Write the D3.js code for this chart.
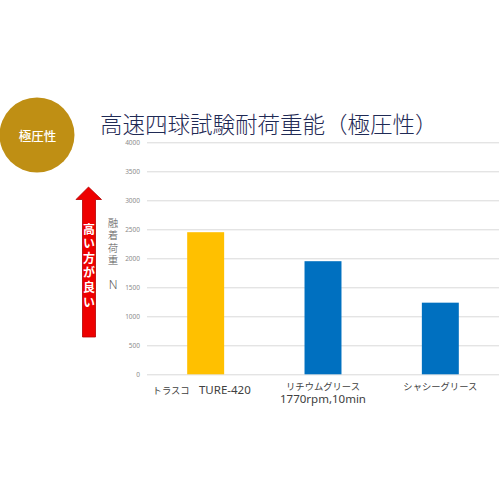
<!DOCTYPE html>
<html lang="ja">
<head>
  <meta charset="UTF-8">
  <title>高速四球試験耐荷重能（極圧性）</title>
  <style>
    body { margin: 0; background: #fff; }
    #chart { width: 500px; height: 500px; display: block; }
    text { font-family: "Noto Sans CJK JP", "Noto Sans", sans-serif; }
  </style>
</head>
<body>
  <svg id="chart"></svg>

  <script src="https://d3js.org/d3.v7.min.js"></script>
  <script>
    // chart data
    const categories = ["トラスコ　TURE-420", "リチウムグリース\n1770rpm,10min", "シャシーグリース"];
    const values = [2450, 1950, 1235];
    const barColors = ["#ffc000", "#0070c0", "#0070c0"];
    const yTicks = [0, 500, 1000, 1500, 2000, 2500, 3000, 3500, 4000];
    const title = "高速四球試験耐荷重能（極圧性）";
    const badge = "極圧性";
    const arrowText = "高い方が良い";
    const axisLabel = "融着荷重";
    const axisUnit = "N";

    const width = 500;
    const height = 500;

    const svg = d3.select("#chart")
      .attr("width", width)
      .attr("height", height);

    const x = d3.scaleBand()
      .domain(categories)
      .range([147, 499])
      .paddingInner(0.685)
      .paddingOuter(0.3425);

    const y = d3.scaleLinear()
      .domain([0, 4000])
      .range([374.3, 142.3]);

    // gridlines + tick labels
    const yAxis = svg.append("g")
      .attr("transform", "translate(147,0)")
      .call(d3.axisLeft(y).tickValues(yTicks).tickSize(-352).tickPadding(7).tickFormat(d3.format("d")));
    yAxis.select(".domain").remove();
    yAxis.selectAll(".tick line").attr("stroke", "#d9d9d9").attr("stroke-width", 1);
    yAxis.selectAll(".tick text")
      .attr("fill", "#8c8c8c")
      .style("font-family", "'Noto Sans', sans-serif")
      .style("font-size", "6.5px");

    // bars
    svg.append("g").selectAll("rect")
      .data(values)
      .join("rect")
      .attr("x", (d, i) => x(categories[i]))
      .attr("width", x.bandwidth())
      .attr("y", d => y(d))
      .attr("height", d => y(0) - y(d))
      .attr("fill", (d, i) => barColors[i]);

    // category labels: katakana smaller than latin, like the original font
    const isCJK = ch => /[\u3000-\u30ff\u4e00-\u9fff\uff00-\uffef]/.test(ch);
    function runs(str) {
      const out = [];
      for (const ch of str) {
        const c = isCJK(ch);
        if (out.length && out[out.length - 1].cjk === c) out[out.length - 1].t += ch;
        else out.push({ t: ch, cjk: c });
      }
      return out;
    }

    categories.forEach((cat, i) => {
      const lines = cat.split("\n");
      const cx = x(cat) + x.bandwidth() / 2 - (i === 0 ? 4 : 0);
      const baseY = lines.length > 1 ? 389.5 : (i === 0 ? 394 : 390);
      lines.forEach((line, j) => {
        const t = svg.append("text")
          .attr("x", cx)
          .attr("y", baseY + j * 13.5)
          .attr("text-anchor", "middle")
          .attr("fill", "#404040");
        runs(line).forEach(r => {
          t.append("tspan")
            .text(r.t)
            .style("font-size", r.cjk ? "9.3px" : "11.5px")
            .style("font-family", r.cjk ? "'Noto Sans CJK JP'" : "'Noto Sans', sans-serif");
        });
      });
    });

    // title
    svg.append("text")
      .attr("x", 100)
      .attr("y", 132.5)
      .attr("fill", "#1f2a55")
      .style("font-size", "22.5px")
      .style("font-weight", 300)
      .text(title);

    // gold badge
    svg.append("circle")
      .attr("cx", 37)
      .attr("cy", 135)
      .attr("r", 37.5)
      .attr("fill", "#bf8f14");
    svg.append("text")
      .attr("x", 37.5)
      .attr("y", 140.5)
      .attr("text-anchor", "middle")
      .attr("fill", "#fff")
      .style("font-size", "12.5px")
      .style("font-weight", 500)
      .text(badge);

    // red arrow
    const arrow = d3.path();
    arrow.moveTo(88.5, 187);
    arrow.lineTo(101.5, 199.5);
    arrow.lineTo(95.5, 199.5);
    arrow.lineTo(95.5, 337);
    arrow.lineTo(82.5, 337);
    arrow.lineTo(82.5, 199.5);
    arrow.lineTo(76, 199.5);
    arrow.closePath();
    svg.append("path")
      .attr("d", arrow.toString())
      .attr("fill", "#ee0000")
      .attr("stroke", "#b40000")
      .attr("stroke-width", 0.8);

    svg.append("text")
      .attr("x", 89)
      .attr("y", 223)
      .attr("writing-mode", "vertical-rl")
      .attr("fill", "#fff")
      .style("font-size", "12px")
      .style("font-weight", 700)
      .style("letter-spacing", "2.6px")
      .text(arrowText);

    // vertical axis title
    svg.append("text")
      .attr("x", 113)
      .attr("y", 217.5)
      .attr("writing-mode", "vertical-rl")
      .attr("fill", "#595959")
      .style("font-size", "10.5px")
      .style("font-weight", 300)
      .style("letter-spacing", "2px")
      .text(axisLabel);

    svg.append("text")
      .attr("x", 113)
      .attr("y", 288.5)
      .attr("text-anchor", "middle")
      .attr("fill", "#595959")
      .style("font-size", "12px")
      .style("font-family", "'Noto Sans', sans-serif")
      .style("font-weight", 300)
      .text(axisUnit);
  </script>
</body>
</html>
